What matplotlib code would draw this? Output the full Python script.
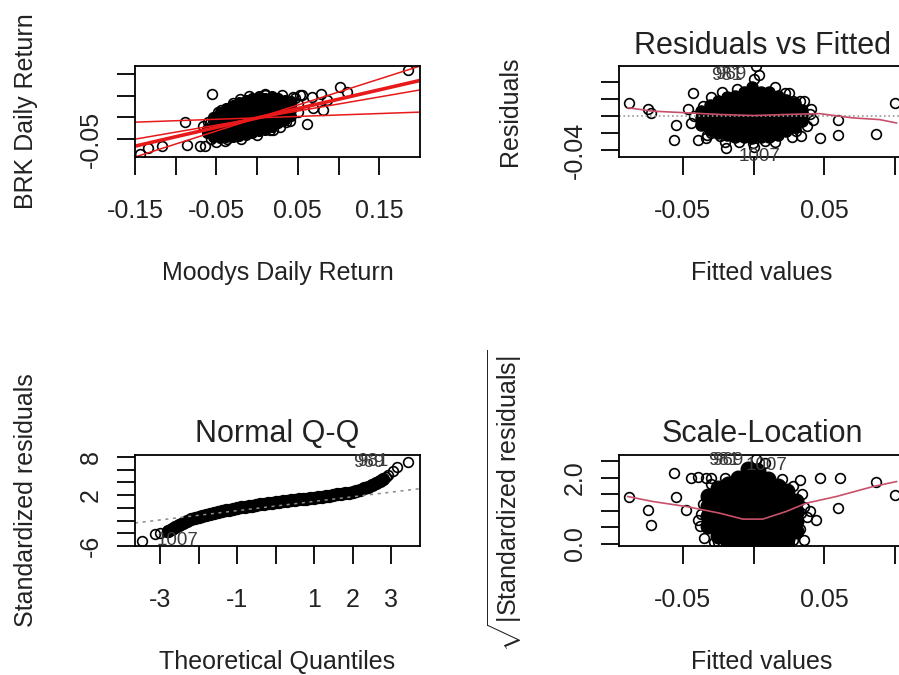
import matplotlib
matplotlib.use('Agg')
import matplotlib.pyplot as plt

plt.rcParams['font.family'] = ['Liberation Sans', 'DejaVu Sans']
plt.rcParams['mathtext.fontset'] = 'custom'
plt.rcParams['mathtext.rm'] = 'Liberation Sans'
plt.rcParams['mathtext.it'] = 'Liberation Sans:italic'
plt.rcParams['mathtext.bf'] = 'Liberation Sans:bold'
plt.rcParams['mathtext.sf'] = 'Liberation Sans'

# ---------------- Panel 1: BRK vs Moodys daily returns ----------------
p1_core_cols_x = [-0.062, -0.054, -0.046, -0.038, -0.030, -0.022, -0.014,
                  -0.006, 0.002, 0.010, 0.018, 0.026, 0.034, 0.042]
p1_core_cols_y = [
    [-0.036, -0.026],
    [-0.044, -0.032, -0.020, -0.008, 0.002],
    [-0.048, -0.036, -0.024, -0.012, 0.000, 0.012],
    [-0.046, -0.034, -0.022, -0.010, 0.002, 0.014, 0.022],
    [-0.044, -0.032, -0.020, -0.008, 0.004, 0.016, 0.028],
    [-0.042, -0.030, -0.018, -0.006, 0.006, 0.018, 0.030, 0.036],
    [-0.040, -0.028, -0.016, -0.004, 0.008, 0.020, 0.032, 0.040],
    [-0.036, -0.024, -0.012, 0.000, 0.012, 0.024, 0.036, 0.044],
    [-0.032, -0.020, -0.008, 0.004, 0.016, 0.028, 0.040, 0.048],
    [-0.028, -0.016, -0.004, 0.008, 0.020, 0.032, 0.044],
    [-0.022, -0.010, 0.002, 0.014, 0.026, 0.038, 0.048],
    [-0.014, -0.002, 0.010, 0.022, 0.034, 0.044],
    [-0.006, 0.006, 0.018, 0.030, 0.040],
    [0.004, 0.016, 0.028, 0.038],
]
p1_pts_x = [-0.144, -0.134, -0.117, -0.0886, -0.0865, -0.070, -0.064, -0.050,
            -0.0374, -0.0558, -0.021, -0.0087, 0.0097, 0.0445, 0.0548, 0.067,
            0.079, 0.061, 0.0813, 0.0855, 0.102, 0.110, 0.0158, 0.028, 0.1854,
            -0.048, -0.060, -0.066, 0.036, 0.050, 0.069, 0.053,
            -0.058, -0.045, -0.030, -0.010, 0.010, 0.030, 0.046, 0.050, 0.040,
            0.020, 0.000, -0.020, -0.040, -0.057]
p1_pts_y = [-0.083, -0.0714, -0.0668, -0.0108, -0.0645, -0.0668, -0.0668, -0.057,
            -0.049, 0.0546, 0.043, 0.039, 0.0546, 0.0468, 0.0507, 0.0468,
            0.0546, -0.0146, 0.016, 0.039, 0.070, 0.058, -0.030, -0.022, 0.108,
            0.012, -0.010, -0.020, -0.010, 0.030, 0.022, 0.052,
            -0.012, 0.018, 0.034, 0.048, 0.052, 0.052, 0.044, 0.012, -0.008,
            -0.028, -0.040, -0.050, -0.054, -0.050]
p1_line_slope = [0.597, 0.431, 0.323, 0.066]
p1_line_icpt = [-0.0015, -0.0014, -0.0016, -0.0011]
p1_xticks = [-0.15, -0.10, -0.05, 0.0, 0.05, 0.10, 0.15]
p1_xticklabels = ['-0.15', '', '-0.05', '', '0.05', '', '0.15']
p1_yticks = [-0.05, 0.0, 0.05, 0.10]
p1_yticklabels = ['-0.05', '', '', '']

# ---------------- Panel 2: Residuals vs Fitted ----------------
p2_core_cols_x = [-0.037, -0.031, -0.025, -0.019, -0.013, -0.007, -0.001,
                  0.005, 0.011, 0.017, 0.023, 0.029, 0.034]
p2_core_cols_y = [
    [-0.010, -0.002, 0.006],
    [-0.016, -0.008, 0.000, 0.008, 0.013],
    [-0.020, -0.012, -0.004, 0.004, 0.012, 0.018],
    [-0.022, -0.014, -0.006, 0.002, 0.010, 0.018, 0.023],
    [-0.024, -0.016, -0.008, 0.000, 0.008, 0.016, 0.024],
    [-0.025, -0.017, -0.009, -0.001, 0.007, 0.015, 0.023, 0.028],
    [-0.026, -0.018, -0.010, -0.002, 0.006, 0.014, 0.022, 0.030, 0.034],
    [-0.025, -0.017, -0.009, -0.001, 0.007, 0.015, 0.023, 0.029],
    [-0.024, -0.016, -0.008, 0.000, 0.008, 0.016, 0.024, 0.028],
    [-0.022, -0.014, -0.006, 0.002, 0.010, 0.018, 0.024],
    [-0.018, -0.010, -0.002, 0.006, 0.014, 0.019],
    [-0.013, -0.005, 0.003, 0.011, 0.015],
    [-0.006, 0.001, 0.007],
]
p2_pts_x = [-0.0877, -0.0748, -0.0724, -0.0547, -0.0559, -0.043, -0.0465, -0.0394,
            -0.0335, -0.024, -0.0193, 0.0007, 0.004, 0.002, -0.0005, 0.0125,
            0.022, 0.0337, 0.036, 0.0408, 0.0467, 0.0596, 0.0596, 0.0868,
            0.0997, -0.036, -0.030, 0.028, 0.030, -0.010, 0.008,
            -0.030, -0.022, -0.012, 0.015, 0.025, 0.033, -0.033, -0.020, 0.000,
            0.015, 0.027, 0.038, -0.042, -0.044, 0.040, 0.042]
p2_pts_y = [0.0159, 0.0088, 0.0032, -0.0098, -0.0276, 0.0277, 0.0088, -0.0276,
            -0.0256, -0.0228, -0.0374, 0.0434, 0.049, 0.059, -0.031, -0.0228,
            0.0277, -0.0237, 0.0178, 0.008, -0.0256, -0.004, -0.0217, -0.0205,
            0.0159, 0.012, -0.020, 0.018, -0.018, -0.030, -0.029,
            0.022, 0.028, 0.032, 0.034, 0.027, 0.018, -0.022, -0.030, -0.036,
            -0.030, -0.024, -0.012, 0.000, -0.008, 0.002, -0.004]
p2_smooth_x = [-0.0888, -0.0712, -0.0476, -0.024, 0.0, 0.0236, 0.0467, 0.070, 0.089, 0.101]
p2_smooth_y = [0.0099, 0.0059, 0.004, 0.002, 0.0008, 0.002, 0.003, -0.002, -0.004, -0.008]
p2_xticks = [-0.05, 0.0, 0.05, 0.10]
p2_xticklabels = ['-0.05', '', '0.05', '']
p2_yticks = [-0.04, -0.02, 0.0, 0.02, 0.04]
p2_yticklabels = ['-0.04', '', '', '', '']

# ---------------- Panel 3: Normal Q-Q ----------------
p3_core_x = [-2.8, -2.7, -2.6, -2.5, -2.4, -2.3, -2.2, -2.1, -2.0, -1.9, -1.8,
             -1.7, -1.6, -1.5, -1.4, -1.3, -1.2, -1.1, -1.0, -0.9, -0.8, -0.7,
             -0.6, -0.5, -0.4, -0.3, -0.2, -0.1, 0.0, 0.1, 0.2, 0.3, 0.4, 0.5,
             0.6, 0.7, 0.8, 0.9, 1.0, 1.1, 1.2, 1.3, 1.4, 1.5, 1.6, 1.7, 1.8,
             1.9, 2.0, 2.1, 2.2, 2.3, 2.4, 2.5, 2.6, 2.7, 2.8]
p3_core_y = [-3.6, -3.3, -3.0, -2.65, -2.35, -2.05, -1.8, -1.58, -1.39, -1.21, -1.05,
             -0.9, -0.76, -0.62, -0.5, -0.39, -0.27, -0.16, -0.05, 0.06, 0.16, 0.25,
             0.34, 0.43, 0.53, 0.62, 0.71, 0.79, 0.87, 0.94, 1.02, 1.09, 1.17, 1.24,
             1.31, 1.39, 1.46, 1.54, 1.61, 1.68, 1.76, 1.84, 1.93, 2.02, 2.11, 2.2, 2.3,
             2.4, 2.53, 2.68, 2.86, 3.07, 3.3, 3.6, 3.92, 4.2, 4.6]
p3_pts_x = [-3.48, -3.13, -3.0, -2.83, 2.88, 2.93, 3.05, 3.15, 3.45]
p3_pts_y = [-5.16, -4.1, -4.0, -3.75, 4.85, 5.17, 5.8, 6.47, 7.26]
p3_qq_icpt = 0.28
p3_qq_slope = 0.728
p3_xticks = [-3, -2, -1, 0, 1, 2, 3]
p3_xticklabels = ['-3', '', '-1', '', '1', '2', '3']
p3_yticks = [-6, -4, -2, 0, 2, 4, 6, 8]
p3_yticklabels = ['-6', '', '', '', '2', '', '', '8']

# ---------------- Panel 4: Scale-Location ----------------
p4_core_cols_x = [-0.032, -0.025, -0.018, -0.011, -0.004, 0.003, 0.010, 0.017, 0.024, 0.030]
p4_core_cols_y = [
    [0.55, 0.85, 1.15, 1.45],
    [0.25, 0.55, 0.85, 1.15, 1.45, 1.7],
    [0.05, 0.35, 0.65, 0.95, 1.25, 1.55, 1.8],
    [0.0, 0.3, 0.6, 0.9, 1.2, 1.5, 1.8, 2.0],
    [0.0, 0.3, 0.6, 0.9, 1.2, 1.5, 1.8, 2.1, 2.25],
    [0.0, 0.3, 0.6, 0.9, 1.2, 1.5, 1.8, 2.05, 2.2],
    [0.0, 0.3, 0.6, 0.9, 1.2, 1.5, 1.8, 1.95],
    [0.0, 0.3, 0.6, 0.9, 1.2, 1.5, 1.75],
    [0.15, 0.45, 0.75, 1.05, 1.35, 1.6],
    [0.4, 0.7, 1.0, 1.3],
]
p4_pts_x = [-0.0877, -0.0748, -0.0724, -0.0559, -0.0547, -0.0476, -0.044, -0.0394,
            -0.0335, 0.0325, 0.0467, 0.061, 0.0596, 0.0337, 0.0396, 0.0443,
            0.028, 0.036, 0.0868, 0.0997, -0.0394, -0.038, -0.0347, -0.030,
            0.038, -0.028, 0.008, 0.002,
            -0.036, -0.037, -0.030, -0.020, 0.020, 0.028, 0.034, 0.036, 0.033,
            -0.025, 0.025]
p4_pts_y = [1.43, 1.03, 0.58, 2.13, 1.43, 1.03, 1.98, 2.03,
            1.98, 1.93, 1.98, 1.98, 1.08, 0.93, 0.98, 0.73,
            0.13, 0.13, 1.88, 1.48, 0.73, 0.53, 0.18, 2.0,
            0.8, 0.05, 2.45, 2.55,
            1.2, 0.9, 1.8, 2.0, 1.95, 1.75, 1.5, 1.1, 0.45,
            0.05, 0.0]
p4_smooth_x = [-0.0888, -0.0712, -0.0476, -0.024, -0.0076, 0.0066, 0.0231, 0.0373, 0.0585, 0.0844, 0.101]
p4_smooth_y = [1.43, 1.28, 1.13, 0.93, 0.75, 0.75, 0.98, 1.23, 1.43, 1.73, 1.88]
p4_xticks = [-0.05, 0.0, 0.05, 0.10]
p4_xticklabels = ['-0.05', '', '0.05', '']
p4_yticks = [0.0, 0.5, 1.0, 1.5, 2.0, 2.5]
p4_yticklabels = ['0.0', '', '', '', '2.0', '']


def flatten(cols_x, cols_y):
    xs = [x for x, col in zip(cols_x, cols_y) for _ in col]
    ys = [y for col in cols_y for y in col]
    return xs, ys


W, H = 899, 675
fig = plt.figure(figsize=(W / 100, H / 100), dpi=100)


def make_ax(l, t, r, b):
    return fig.add_axes([l / W, 1 - b / H, (r - l) / W, (b - t) / H])


TXT = '#222222'
LBL = '#3a3a3a'
FS = 18


def style(ax, xt, xtl, yt, ytl):
    for s in ax.spines.values():
        s.set_linewidth(1.3)
        s.set_color('black')
    ax.set_xticks(xt, xtl)
    ax.set_yticks(yt, ytl, rotation=90, va='center')
    ax.tick_params(axis='both', direction='out', length=13, width=1.3,
                   labelsize=FS, labelcolor=TXT, color='black')
    ax.tick_params(axis='x', pad=17)
    ax.tick_params(axis='y', pad=10)


def hollow(ax, x, y):
    ax.plot(x, y, 'o', ls='none', ms=7, mfc='none', mec='black', mew=1.2)


def core(ax, x, y, ms):
    ax.plot(x, y, 'o', ls='none', ms=ms, mfc='black', mec='black', mew=1.0)


def ylab(ax, text, xc):
    ax.set_ylabel(text, fontsize=FS, color=TXT, va='center')
    ax.yaxis.set_label_coords(xc, 0.5)


def xlab(ax, text):
    ax.set_xlabel(text, fontsize=FS, color=TXT, va='center')
    ax.xaxis.set_label_coords(0.5, -116 / 91)


# Panel 1
ax1 = make_ax(135, 66, 420, 157)
cx, cy = flatten(p1_core_cols_x, p1_core_cols_y)
core(ax1, cx, cy, 7.0)
hollow(ax1, p1_pts_x, p1_pts_y)
xlim1 = (-0.15, 0.20)
for k, (m, c) in enumerate(zip(p1_line_slope, p1_line_icpt)):
    ax1.plot(list(xlim1), [c + m * xlim1[0], c + m * xlim1[1]], color='#e8191a',
             lw=2.6 if k == 1 else 1.1, solid_capstyle='butt')
ax1.set_xlim(*xlim1)
ax1.set_ylim(-0.091, 0.118)
style(ax1, p1_xticks, p1_xticklabels, p1_yticks, p1_yticklabels)
xlab(ax1, 'Moodys Daily Return')
ylab(ax1, 'BRK Daily Return', -0.384)

# Panel 2
ax2 = make_ax(619, 66, 905, 157)
cx, cy = flatten(p2_core_cols_x, p2_core_cols_y)
core(ax2, cx, cy, 8.0)
hollow(ax2, p2_pts_x, p2_pts_y)
ax2.axhline(0, color='#9a9a9a', ls=':', lw=1.2)
ax2.plot(p2_smooth_x, p2_smooth_y, color='#c8506a', lw=1.2)
ax2.text(-0.019, 0.048, '981', fontsize=13.5, color=LBL, ha='center', va='center')
ax2.text(-0.016, 0.0485, '969', fontsize=13.5, color=LBL, ha='center', va='center')
ax2.text(0.004, -0.0475, '1007', fontsize=13.5, color=LBL, ha='center', va='center', clip_on=False)
ax2.set_xlim(-0.095, 0.107)
ax2.set_ylim(-0.048, 0.059)
style(ax2, p2_xticks, p2_xticklabels, p2_yticks, p2_yticklabels)
ax2.set_title('Residuals vs Fitted', fontsize=22, color=TXT, pad=9)
xlab(ax2, 'Fitted values')
ylab(ax2, 'Residuals', -0.381)

# Panel 3
ax3 = make_ax(135, 455, 420, 546)
core(ax3, p3_core_x, p3_core_y, 8.6)
hollow(ax3, p3_pts_x, p3_pts_y)
xlim3 = (-3.65, 3.75)
ax3.plot(list(xlim3), [p3_qq_icpt + p3_qq_slope * xlim3[0], p3_qq_icpt + p3_qq_slope * xlim3[1]],
         color='#8a8a8a', ls=(0, (2, 3)), lw=1.1)
ax3.text(-2.55, -5.2, '1007', fontsize=13.5, color=LBL, ha='center', va='center', clip_on=False)
ax3.text(2.42, 7.1, '969', fontsize=13.5, color=LBL, ha='center', va='center')
ax3.text(2.52, 7.2, '981', fontsize=13.5, color=LBL, ha='center', va='center')
ax3.set_xlim(*xlim3)
ax3.set_ylim(-6.0, 8.3)
style(ax3, p3_xticks, p3_xticklabels, p3_yticks, p3_yticklabels)
ax3.set_title('Normal Q-Q', fontsize=22, color=TXT, pad=9)
xlab(ax3, 'Theoretical Quantiles')
ylab(ax3, 'Standardized residuals', -0.384)

# Panel 4
ax4 = make_ax(619, 455, 905, 546)
cx, cy = flatten(p4_core_cols_x, p4_core_cols_y)
core(ax4, cx, cy, 10.5)
hollow(ax4, p4_pts_x, p4_pts_y)
ax4.plot(p4_smooth_x, p4_smooth_y, color='#c8506a', lw=1.2)
ax4.text(-0.021, 2.52, '981', fontsize=13.5, color=LBL, ha='center', va='center')
ax4.text(-0.018, 2.5, '969', fontsize=13.5, color=LBL, ha='center', va='center')
ax4.text(0.009, 2.37, '1007', fontsize=13.5, color=LBL, ha='center', va='center')
ax4.set_xlim(-0.095, 0.107)
ax4.set_ylim(-0.06, 2.68)
style(ax4, p4_xticks, p4_xticklabels, p4_yticks, p4_yticklabels)
ax4.set_title('Scale-Location', fontsize=22, color=TXT, pad=9)
xlab(ax4, 'Fitted values')
ylab(ax4, r'$\sqrt{|\mathrm{Standardized\ residuals}|}$', -0.40)

fig.savefig('out.png', dpi=100)
